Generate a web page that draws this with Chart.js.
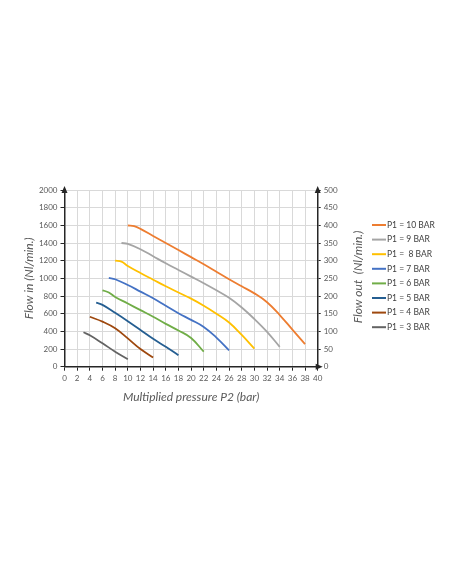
<!DOCTYPE html>
<html>
<head>
<meta charset="utf-8">
<script src="https://cdn.jsdelivr.net/npm/chart.js@4.4.1/dist/chart.umd.min.js"></script>
<style>
  html, body { margin: 0; padding: 0; background: #fff; }
  canvas { display: block; }
</style>
</head>
<body>
<canvas id="pressure-chart" width="452" height="584"></canvas>
<script>
const ctx = document.getElementById("pressure-chart").getContext("2d");

// Multiplied pressure P2 (bar) and flow in (Nl/min.) per inlet pressure P1
const p2Bar10 = [10, 11, 12, 14, 16, 18, 20, 22, 24, 26, 28, 30, 32, 34, 36, 38];
const flowBar10 = [1600, 1590, 1560, 1480, 1400, 1320, 1240, 1160, 1075, 990, 910, 830, 730, 585, 420, 255];

const p2Bar9 = [9, 10, 12, 14, 16, 18, 20, 22, 24, 26, 28, 30, 32, 34];
const flowBar9 = [1400, 1390, 1330, 1250, 1170, 1095, 1020, 945, 865, 780, 670, 540, 395, 225];

const p2Bar8 = [8, 9, 10, 12, 14, 16, 18, 20, 22, 24, 26, 28, 30];
const flowBar8 = [1200, 1190, 1140, 1060, 985, 910, 840, 770, 690, 600, 500, 360, 205];

const p2Bar7 = [7, 8, 10, 12, 14, 16, 18, 20, 22, 24, 26];
const flowBar7 = [1005, 990, 925, 850, 775, 690, 605, 530, 450, 330, 185];

const p2Bar6 = [6, 7, 8, 10, 12, 14, 16, 18, 20, 22];
const flowBar6 = [865, 840, 790, 715, 640, 565, 485, 410, 325, 170];

const p2Bar5 = [5, 6, 8, 10, 12, 14, 16, 18];
const flowBar5 = [725, 700, 610, 515, 415, 315, 225, 130];

const p2Bar4 = [4, 6, 8, 10, 12, 14];
const flowBar4 = [565, 510, 435, 320, 200, 105];

const p2Bar3 = [3, 4, 6, 8, 10];
const flowBar3 = [390, 355, 265, 170, 85];

const seriesLabels = ["P1 = 10 BAR", "P1 = 9 BAR", "P1 =  8 BAR", "P1 = 7 BAR", "P1 = 6 BAR", "P1 = 5 BAR", "P1 = 4 BAR", "P1 = 3 BAR"];
const seriesColors = ["#ED7D31", "#A5A5A5", "#FFC000", "#4472C4", "#70AD47", "#255E91", "#9E480E", "#636363"];

const xTicks = { min: 0, max: 40, step: 2 };
const flowInTicks = { min: 0, max: 2000, step: 200 };
const flowOutTicks = { min: 0, max: 500, step: 50 };

const FONT = "Lato";
const axisColor = "#262626";
const tickText = "#595959";

function toPoints(xs, ys) {
    return xs.map((x, i) => ({ x: x, y: ys[i] }));
}

const allX = [p2Bar10, p2Bar9, p2Bar8, p2Bar7, p2Bar6, p2Bar5, p2Bar4, p2Bar3];
const allY = [flowBar10, flowBar9, flowBar8, flowBar7, flowBar6, flowBar5, flowBar4, flowBar3];

const datasets = seriesLabels.map((label, i) => ({
    label: label,
    data: toPoints(allX[i], allY[i]),
    borderColor: seriesColors[i],
    backgroundColor: seriesColors[i],
    borderWidth: 1.8,
    pointRadius: 0,
    tension: 0.4,
    yAxisID: "y"
}));

// axis arrows, right axis title and the legend
const extras = {
    id: "extras",
    afterDraw(chart) {
        const c = chart.ctx;
        const a = chart.chartArea;
        c.save();
        c.fillStyle = axisColor;
        const up = (x, y) => {
            c.beginPath();
            c.moveTo(x, y - 4);
            c.lineTo(x - 3, y + 3);
            c.lineTo(x + 3, y + 3);
            c.closePath();
            c.fill();
        };
        up(a.left, a.top);
        up(a.right, a.top);
        c.beginPath();
        c.moveTo(a.right + 5, a.bottom);
        c.lineTo(a.right - 2, a.bottom - 3);
        c.lineTo(a.right - 2, a.bottom + 3);
        c.closePath();
        c.fill();

        // right axis title, reading bottom to top like the left one
        c.translate(358, 277);
        c.rotate(-Math.PI / 2);
        c.font = "italic 12px " + FONT;
        c.fillStyle = tickText;
        c.textAlign = "center";
        c.textBaseline = "middle";
        c.fillText("Flow out  (Nl/min.)", 0, 0);
        c.setTransform(1, 0, 0, 1, 0, 0);

        // legend
        c.font = "8.5px " + FONT;
        c.textAlign = "left";
        c.textBaseline = "middle";
        chart.data.datasets.forEach((ds, i) => {
            const y = 225 + i * 14.6;
            c.strokeStyle = ds.borderColor;
            c.lineWidth = 2;
            c.beginPath();
            c.moveTo(372, y);
            c.lineTo(386, y);
            c.stroke();
            c.fillStyle = "#404040";
            c.fillText(ds.label, 387, y);
        });
        c.restore();
    }
};

const plainNumber = { useGrouping: false };

const config = {
    type: "line",
    data: { datasets: datasets },
    options: {
        responsive: false,
        animation: false,
        layout: {
            padding: { top: 190, left: 20, right: 84.3, bottom: 177.3 }
        },
        plugins: {
            legend: { display: false },
            tooltip: { enabled: false }
        },
        scales: {
            x: {
                type: "linear",
                position: "bottom",
                min: xTicks.min,
                max: xTicks.max,
                afterFit: (s) => { s.height = 40; },
                border: { color: axisColor, width: 1.5 },
                grid: { color: "#d9d9d9", tickColor: axisColor, tickLength: 4 },
                ticks: {
                    stepSize: xTicks.step,
                    padding: 3,
                    maxRotation: 0,
                    format: plainNumber,
                    color: tickText,
                    font: { family: FONT, size: 8 }
                },
                title: {
                    display: true,
                    text: "Multiplied pressure P2 (bar)",
                    color: tickText,
                    padding: { top: 0, bottom: 2.8 },
                    font: { family: FONT, size: 12, style: "italic" }
                }
            },
            y: {
                type: "linear",
                position: "left",
                min: flowInTicks.min,
                max: flowInTicks.max,
                afterFit: (s) => { s.width = 44.5; },
                border: { color: axisColor, width: 1.5 },
                grid: { color: "#d9d9d9", tickColor: axisColor, tickLength: 4 },
                ticks: {
                    stepSize: flowInTicks.step,
                    padding: 3,
                    format: plainNumber,
                    color: tickText,
                    font: { family: FONT, size: 8 }
                },
                title: {
                    display: true,
                    text: "Flow in (Nl/min.)",
                    color: tickText,
                    padding: { top: 2, bottom: 0 },
                    font: { family: FONT, size: 12, style: "italic" }
                }
            },
            y2: {
                type: "linear",
                position: "right",
                min: flowOutTicks.min,
                max: flowOutTicks.max,
                afterFit: (s) => { s.width = 50; },
                border: { color: axisColor, width: 1.5 },
                grid: { drawOnChartArea: false, tickColor: axisColor, tickLength: 3 },
                ticks: {
                    stepSize: flowOutTicks.step,
                    padding: 3,
                    format: plainNumber,
                    color: tickText,
                    font: { family: FONT, size: 8 }
                }
            }
        }
    },
    plugins: [extras]
};

const pressureChart = new Chart(ctx, config);
</script>
</body>
</html>
